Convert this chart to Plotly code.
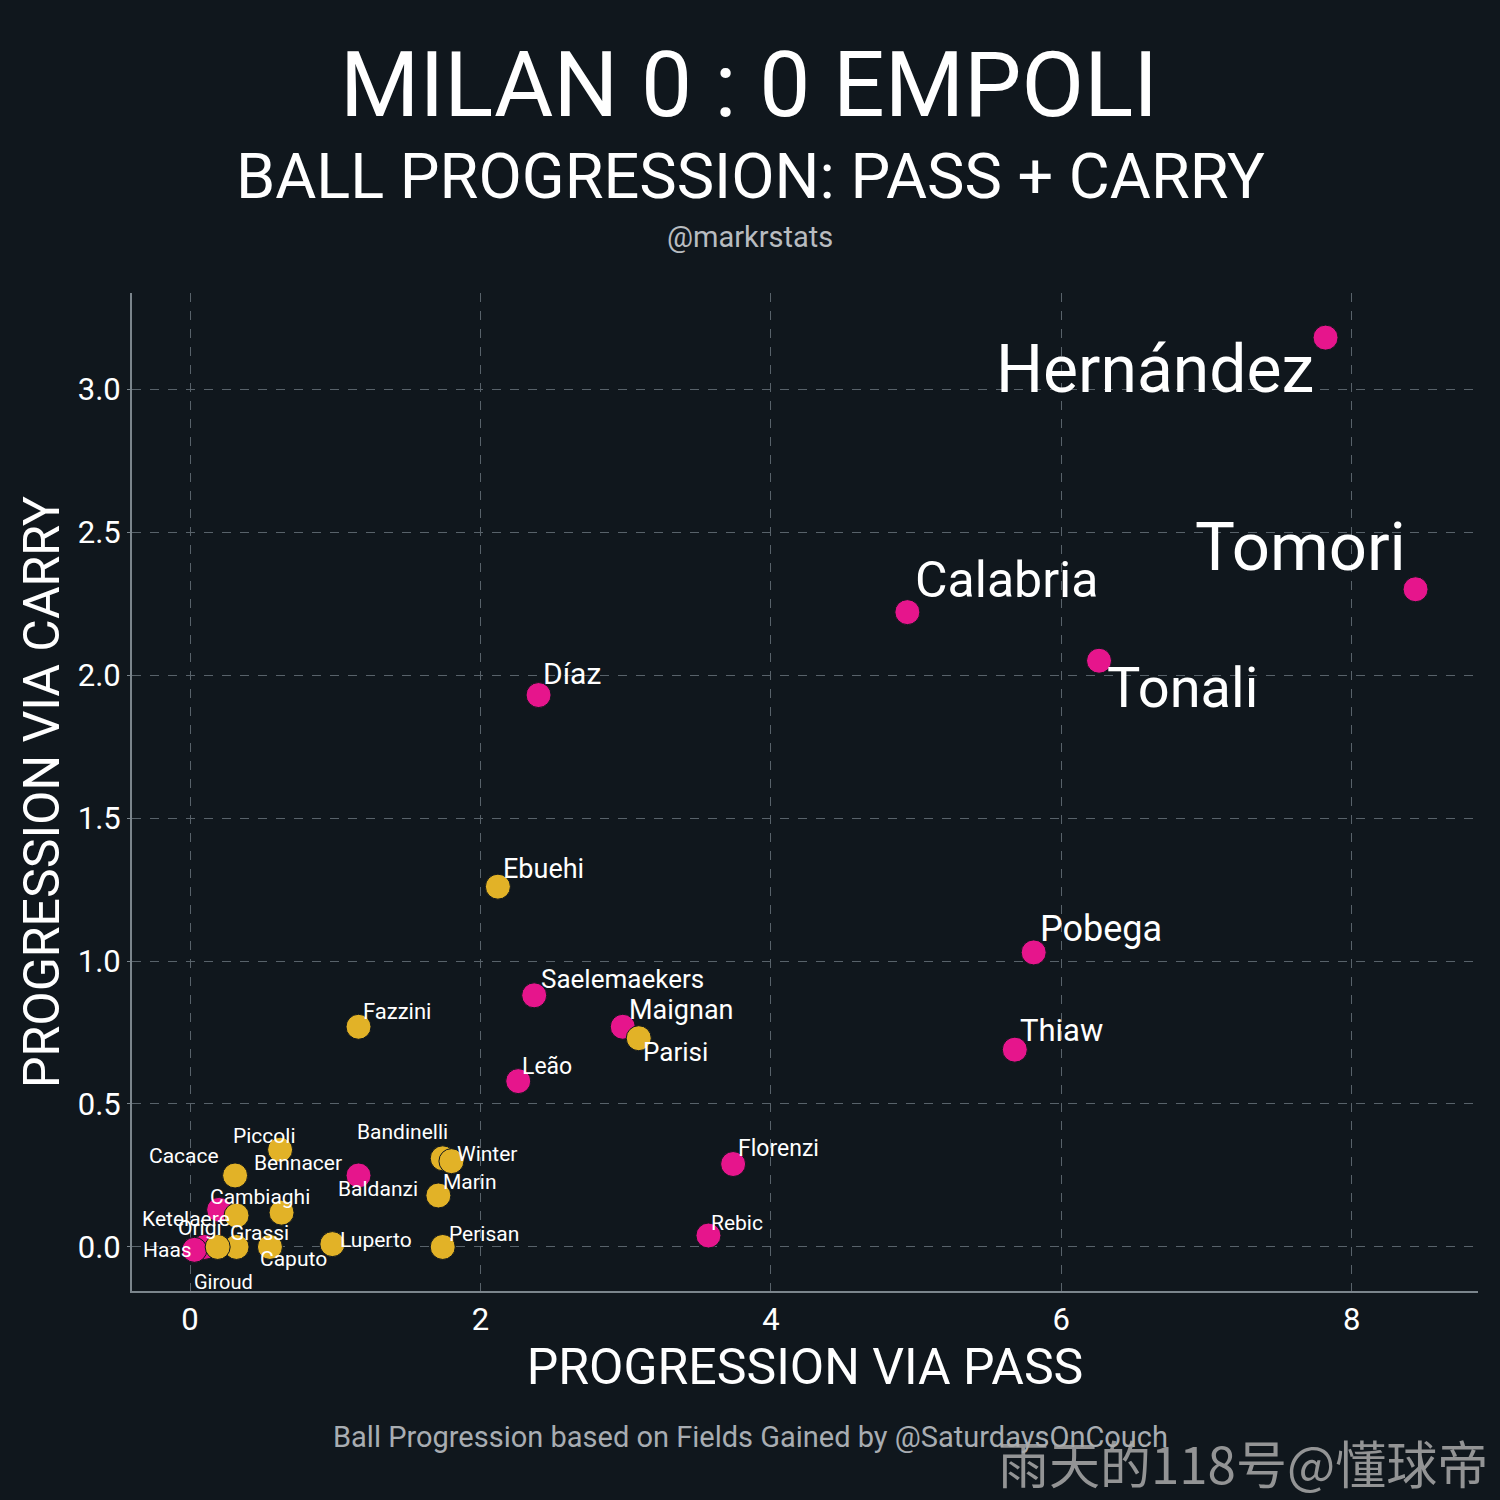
import plotly.graph_objects as go

# Milan (pink) — progression via pass / via carry
milan_players = ["Hernández", "Tomori", "Calabria", "Tonali", "Díaz", "Pobega",
                 "Thiaw", "Saelemaekers", "Maignan", "Leão", "Florenzi", "Rebic",
                 "Bennacer", "Ketelaere", "Origi", "Giroud"]
milan_pass = [7.82, 8.44, 4.94, 6.26, 2.40, 5.81, 5.68, 2.37, 2.98, 2.26, 3.74, 3.57,
              1.16, 0.20, 0.10, 0.03]
milan_carry = [3.18, 2.30, 2.22, 2.05, 1.93, 1.03, 0.69, 0.88, 0.77, 0.58, 0.29, 0.04,
               0.25, 0.13, 0.00, -0.01]

# Empoli (gold)
empoli_players = ["Ebuehi", "Fazzini", "Parisi", "Piccoli", "Cacace", "Bandinelli",
                  "Winter", "Marin", "Cambiaghi", "Baldanzi", "Grassi", "Haas",
                  "Caputo", "Luperto", "Perisan"]
empoli_pass = [2.12, 1.16, 3.09, 0.62, 0.31, 1.74, 1.80, 1.71, 0.32, 0.63, 0.32, 0.19,
               0.55, 0.98, 1.74]
empoli_carry = [1.26, 0.77, 0.73, 0.34, 0.25, 0.31, 0.30, 0.18, 0.11, 0.12, 0.00, 0.00,
                0.00, 0.01, 0.00]

x_ticks = [0, 2, 4, 6, 8]
y_ticks = [0.0, 0.5, 1.0, 1.5, 2.0, 2.5, 3.0]

BG = "#10171d"
PINK = "#e6158c"
GOLD = "#e2b227"
FONT = "Roboto"

# label placement: (xanchor, xshift, yshift, font size) — pixels, relative to the dot
label_style = {
    "Hernández": ("right", -10, -32, 66),
    "Tomori": ("right", -8, 42, 67),
    "Calabria": ("left", 6, 32, 50),
    "Tonali": ("left", 6, -27, 56),
    "Díaz": ("left", 2, 22, 30),
    "Pobega": ("left", 4, 23, 36),
    "Thiaw": ("left", 3, 19, 31),
    "Saelemaekers": ("left", 5, 16, 26),
    "Maignan": ("left", 4, 17, 27),
    "Leão": ("left", 2, 15, 23),
    "Florenzi": ("left", 3, 16, 23),
    "Rebic": ("left", 1, 13, 21),
    "Bennacer": ("left", -107, 12, 21),
    "Ketelaere": ("left", -79, -9, 21),
    "Origi": ("left", -29, 19, 21),
    "Giroud": ("left", -2, -32, 20),
    "Ebuehi": ("left", 3, 18, 27),
    "Fazzini": ("left", 2, 15, 22),
    "Parisi": ("left", 2, -14, 26),
    "Piccoli": ("left", -49, 14, 21),
    "Cacace": ("left", -88, 19, 21),
    "Bandinelli": ("left", -88, 26, 21),
    "Winter": ("left", 4, 7, 21),
    "Marin": ("left", 3, 13, 21),
    "Cambiaghi": ("left", -29, 19, 21),
    "Baldanzi": ("left", 54, 24, 21),
    "Grassi": ("left", -9, 14, 21),
    "Haas": ("left", -77, -3, 21),
    "Caputo": ("left", -12, -12, 21),
    "Luperto": ("left", 6, 4, 21),
    "Perisan": ("left", 4, 13, 21),
}

fig = go.Figure()

fig.add_trace(go.Scatter(
    x=milan_pass, y=milan_carry, mode="markers", name="Milan",
    marker=dict(size=25, color=PINK, line=dict(width=1, color=BG)),
))
fig.add_trace(go.Scatter(
    x=empoli_pass, y=empoli_carry, mode="markers", name="Empoli",
    marker=dict(size=25, color=GOLD, line=dict(width=1, color=BG)),
))

for names, xs, ys in [(milan_players, milan_pass, milan_carry),
                      (empoli_players, empoli_pass, empoli_carry)]:
    for n, xv, yv in zip(names, xs, ys):
        anchor, dx, dy, size = label_style[n]
        fig.add_annotation(
            x=xv, y=yv, text=n, showarrow=False,
            xanchor=anchor, yanchor="middle", xshift=dx, yshift=dy,
            font=dict(family=FONT, size=size, color="white"),
        )

# titles and credits (paper y from pixel rows; plot area spans 293..1291)
def py(pix):
    return (1291 - pix) / 998

fig.add_annotation(text="MILAN 0 : 0 EMPOLI", xref="paper", yref="paper",
                   x=0.5, y=py(85), xanchor="center", yanchor="middle",
                   xshift=-56, showarrow=False,
                   font=dict(family=FONT, size=91, color="white"))
fig.add_annotation(text="BALL PROGRESSION: PASS + CARRY", xref="paper", yref="paper",
                   x=0.5, y=py(176), xanchor="center", yanchor="middle",
                   xshift=-55, showarrow=False,
                   font=dict(family=FONT, size=63, color="white"))
fig.add_annotation(text="@markrstats", xref="paper", yref="paper",
                   x=0.5, y=py(237), xanchor="center", yanchor="middle",
                   xshift=-55, showarrow=False,
                   font=dict(family=FONT, size=29, color="#b8bcc0"))
fig.add_annotation(text="Ball Progression based on Fields Gained by @SaturdaysOnCouch",
                   xref="paper", yref="paper",
                   x=0.5, y=py(1437), xanchor="center", yanchor="middle",
                   xshift=-55, showarrow=False,
                   font=dict(family=FONT, size=29, color="#a8adb2"))
fig.add_annotation(text="雨天的118号@懂球帝", xref="paper", yref="paper",
                   x=1.0, y=py(1462), xanchor="right", yanchor="middle",
                   xshift=12, showarrow=False,
                   font=dict(family="Noto Sans CJK SC", size=51, color="rgba(170,170,170,0.85)"))

axis_common = dict(
    showgrid=True, gridcolor="#58626a", griddash="dash", gridwidth=1.3,
    zeroline=False, showline=True, linecolor="#7b858c", linewidth=2,
    tickfont=dict(family=FONT, size=31, color="white"),
    title_font=dict(family=FONT, size=50, color="white"),
)

fig.update_layout(
    width=1500, height=1500,
    paper_bgcolor=BG, plot_bgcolor=BG,
    showlegend=False,
    margin=dict(l=132, r=22, t=293, b=209),
    xaxis=dict(range=[-0.40, 8.87], tickvals=x_ticks, ticks="",
               title=dict(text="PROGRESSION VIA PASS", standoff=2), **axis_common),
    yaxis=dict(range=[-0.154, 3.336], tickvals=y_ticks, tickformat=".1f",
               ticks="outside", ticklen=3, tickcolor="#7b858c",
               title=dict(text="PROGRESSION VIA CARRY", standoff=2), **axis_common),
)

fig.write_html(
    "out.html",
    config={"displayModeBar": False},
    post_script="document.body.style.margin='0';document.body.style.background='%s';" % BG,
)
